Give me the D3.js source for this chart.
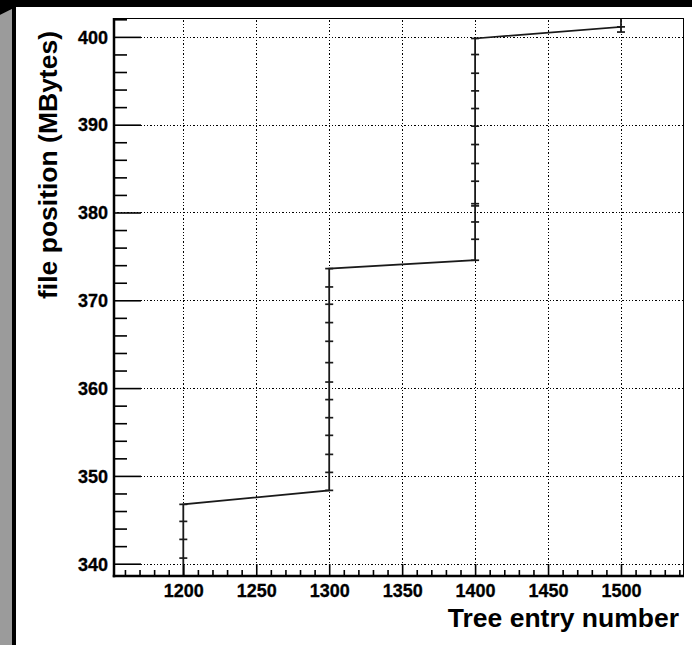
<!DOCTYPE html>
<html>
<head>
<meta charset="utf-8">
<script src="https://cdn.jsdelivr.net/npm/d3@7"></script>
<style>
  html, body { margin: 0; padding: 0; background: #fff; }
  svg { display: block; }
  text { font-family: "Liberation Sans", Arial, Helvetica, sans-serif; font-weight: bold; fill: #000; }
</style>
</head>
<body>
<svg id="chart" width="692" height="645"></svg>
<script>
// Tree entry number vs. file position of each basket (MBytes)
const entryNumber = [
  1200, 1200, 1200, 1200, 1200,
  1300, 1300, 1300, 1300, 1300, 1300, 1300, 1300, 1300, 1300, 1300, 1300, 1300,
  1400, 1400, 1400, 1400, 1400, 1400, 1400, 1400, 1400, 1400, 1400, 1400, 1400, 1400,
  1500, 1500, 1500
];
const filePositionMB = [
  338.3, 340.64, 342.77, 344.82, 346.76,
  348.35, 350.40, 352.45, 354.62, 356.63, 358.69, 360.69, 362.90, 365.33, 367.46, 369.55, 371.52, 373.61,
  374.56, 376.95, 378.92, 380.75, 381.00, 383.56, 385.58, 387.74, 389.83, 391.84, 393.85, 395.86, 397.99, 399.82,
  401.14, 400.55, 402.6
];

// Axis ranges and tick labels
const xRange = [1152.5, 1542.5];
const yRange = [338.6, 402.15];
const xMajorTicks = [1200, 1250, 1300, 1350, 1400, 1450, 1500];
const yMajorTicks = [340, 350, 360, 370, 380, 390, 400];
const xMinorTicks = d3.range(1160, 1541, 10).filter(v => v % 50 !== 0);
const yMinorTicks = d3.range(340, 403, 2).filter(v => v % 10 !== 0);
const xTitle = "Tree entry number";
const yTitle = "file position (MBytes)";

const W = 692, H = 645;
const frame = { left: 114, right: 683, top: 18, bottom: 576 };

const svg = d3.select("#chart");

// Canvas decoration: dark top band and grey left strip
svg.append("rect").attr("x", 0).attr("y", 0).attr("width", W).attr("height", H).attr("fill", "#fff");
svg.append("polygon")
  .attr("points", "0,15 12,9 12,645 0,645")
  .attr("fill", "#9b9b9b");
svg.append("polygon")
  .attr("points", `0,0 ${W},0 ${W},7 16,7 16,${H} 12,${H} 12,9 0,15`)
  .attr("fill", "#000");

const x = d3.scaleLinear().domain(xRange).range([frame.left, frame.right]);
const y = d3.scaleLinear().domain(yRange).range([frame.bottom, frame.top]);

// Dotted grid at major ticks
const grid = svg.append("g").attr("stroke", "#000").attr("stroke-width", 1.2)
  .attr("stroke-dasharray", "1.3,2").attr("shape-rendering", "crispEdges");
grid.selectAll("line.gx").data(xMajorTicks).join("line")
  .attr("class", "gx")
  .attr("x1", d => Math.round(x(d)) + 0.5).attr("x2", d => Math.round(x(d)) + 0.5)
  .attr("y1", frame.bottom).attr("y2", frame.top);
grid.selectAll("line.gy").data(yMajorTicks).join("line")
  .attr("class", "gy")
  .attr("x1", frame.left).attr("x2", frame.right)
  .attr("y1", d => Math.round(y(d)) + 0.5).attr("y2", d => Math.round(y(d)) + 0.5);

// Data clipped to the frame
svg.append("clipPath").attr("id", "plotClip")
  .append("rect")
  .attr("x", frame.left).attr("y", frame.top)
  .attr("width", frame.right - frame.left).attr("height", frame.bottom - frame.top);

const points = entryNumber.map((e, i) => [e, filePositionMB[i]]);
const dataG = svg.append("g").attr("clip-path", "url(#plotClip)");

dataG.append("path")
  .datum(points)
  .attr("fill", "none")
  .attr("stroke", "#1a1a1a")
  .attr("stroke-width", 1.8)
  .attr("d", d3.line().x(d => x(d[0])).y(d => y(d[1])));

// Point markers
dataG.selectAll("line.mk").data(points).join("line")
  .attr("class", "mk")
  .attr("x1", d => x(d[0]) - 4).attr("x2", d => x(d[0]) + 4)
  .attr("y1", d => y(d[1])).attr("y2", d => y(d[1]))
  .attr("stroke", "#1a1a1a").attr("stroke-width", 1.7);

// Y axis ticks (drawn inward) and labels
const yAxisMinor = d3.axisLeft(y).tickValues(yMinorTicks).tickSize(-13).tickSizeOuter(0).tickFormat("");
const yAxisMajor = d3.axisLeft(y).tickValues(yMajorTicks).tickSize(-27).tickSizeOuter(0).tickPadding(6)
  .tickFormat(d3.format("d"));
const gyMin = svg.append("g").attr("transform", `translate(${frame.left},0)`).call(yAxisMinor);
const gyMaj = svg.append("g").attr("transform", `translate(${frame.left},0)`).call(yAxisMajor);
[gyMin, gyMaj].forEach(g => {
  g.select(".domain").remove();
  g.selectAll(".tick line").attr("stroke", "#000").attr("stroke-width", 1.6);
});
gyMaj.selectAll(".tick text")
  .attr("font-size", 18).attr("font-family", null).attr("fill", "#000").attr("dy", "0.35em")
  .attr("stroke", "#000").attr("stroke-width", 0.3);

// X axis ticks (drawn inward) and labels
const xAxisMinor = d3.axisBottom(x).tickValues(xMinorTicks).tickSize(-6).tickSizeOuter(0).tickFormat("");
const xAxisMajor = d3.axisBottom(x).tickValues(xMajorTicks).tickSize(-12).tickSizeOuter(0).tickPadding(8)
  .tickFormat(d3.format("d"));
const gxMin = svg.append("g").attr("transform", `translate(0,${frame.bottom})`).call(xAxisMinor);
const gxMaj = svg.append("g").attr("transform", `translate(0,${frame.bottom})`).call(xAxisMajor);
[gxMin, gxMaj].forEach(g => {
  g.select(".domain").remove();
  g.selectAll(".tick line").attr("stroke", "#000").attr("stroke-width", 1.6);
});
gxMaj.selectAll(".tick text")
  .attr("font-size", 18).attr("font-family", null).attr("fill", "#000")
  .attr("stroke", "#000").attr("stroke-width", 0.3);

// Frame: heavy left and bottom axes, thin top and right
svg.append("line").attr("x1", frame.left).attr("x2", frame.right)
  .attr("y1", frame.top + 0.5).attr("y2", frame.top + 0.5)
  .attr("stroke", "#000").attr("stroke-width", 1);
svg.append("line").attr("x1", frame.right + 0.5).attr("x2", frame.right + 0.5)
  .attr("y1", frame.top).attr("y2", frame.bottom)
  .attr("stroke", "#000").attr("stroke-width", 1);
svg.append("line").attr("x1", frame.left).attr("x2", frame.left)
  .attr("y1", frame.top).attr("y2", frame.bottom + 1.25)
  .attr("stroke", "#000").attr("stroke-width", 2.5);
svg.append("line").attr("x1", frame.left - 1.25).attr("x2", frame.right + 1)
  .attr("y1", frame.bottom).attr("y2", frame.bottom)
  .attr("stroke", "#000").attr("stroke-width", 2.5);

// Axis titles
svg.append("text")
  .attr("x", 679).attr("y", 627)
  .attr("text-anchor", "end")
  .attr("font-size", 26.5)
  .text(xTitle);
svg.append("text")
  .attr("transform", "translate(57,31) rotate(-90)")
  .attr("text-anchor", "end")
  .attr("font-size", 26.5)
  .text(yTitle);
</script>
</body>
</html>
